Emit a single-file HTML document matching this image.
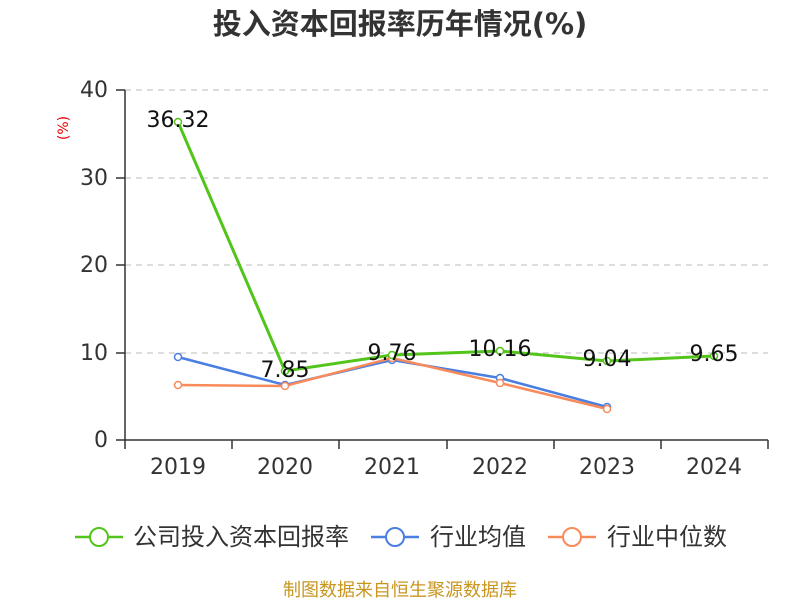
<!DOCTYPE html>
<html><head><meta charset="utf-8"><style>
body{margin:0;background:#fff;}
svg text{font-family:"DejaVu Sans","Noto Sans CJK SC",sans-serif;}
</style></head><body>
<svg width="800" height="600" xmlns="http://www.w3.org/2000/svg">
<rect width="800" height="600" fill="#fff"/>
<text x="400" y="34" text-anchor="middle" font-size="29" font-weight="bold" fill="#333">投入资本回报率历年情况(%)</text>
<text x="68" y="128" font-size="14" fill="#e00" transform="rotate(-90 68 128)" text-anchor="middle">(%)</text>
<g stroke="#bbb" stroke-dasharray="6,5" stroke-width="1">
<line x1="125" y1="90" x2="768" y2="90"/><line x1="125" y1="178" x2="768" y2="178"/>
<line x1="125" y1="265" x2="768" y2="265"/><line x1="125" y1="353" x2="768" y2="353"/>
</g>
<g stroke="#333" stroke-width="1.5">
<line x1="125" y1="440" x2="768" y2="440"/>
<line x1="125" y1="90" x2="125" y2="440"/>
<line x1="116" y1="90" x2="125" y2="90"/><line x1="116" y1="178" x2="125" y2="178"/>
<line x1="116" y1="265" x2="125" y2="265"/><line x1="116" y1="353" x2="125" y2="353"/>
<line x1="116" y1="440" x2="125" y2="440"/>
<line x1="125" y1="440" x2="125" y2="449"/><line x1="232" y1="440" x2="232" y2="449"/>
<line x1="339" y1="440" x2="339" y2="449"/><line x1="447" y1="440" x2="447" y2="449"/>
<line x1="554" y1="440" x2="554" y2="449"/><line x1="661" y1="440" x2="661" y2="449"/>
<line x1="768" y1="440" x2="768" y2="449"/>
</g>
<g font-size="22" fill="#333" text-anchor="end">
<text x="108" y="97">40</text><text x="108" y="185">30</text><text x="108" y="272">20</text>
<text x="108" y="360">10</text><text x="108" y="447">0</text>
</g>
<g font-size="22" fill="#333" text-anchor="middle">
<text x="178" y="474">2019</text><text x="285" y="474">2020</text><text x="392" y="474">2021</text>
<text x="500" y="474">2022</text><text x="607" y="474">2023</text><text x="714" y="474">2024</text>
</g>
<polyline fill="none" stroke="#4a7ee0" stroke-width="2.5" points="178,357 285,385 392,360 500,378 607,407"/>
<polyline fill="none" stroke="#f98a5a" stroke-width="2.5" points="178,385 285,386 392,358 500,383 607,409"/>
<polyline fill="none" stroke="#52c41a" stroke-width="3" points="178,122 285,371 392,355 500,351 607,361 714,356"/>
<g fill="#fff" stroke-width="1.5">
<g stroke="#4a7ee0"><circle cx="178" cy="357" r="3.5"/><circle cx="285" cy="385" r="3.5"/><circle cx="392" cy="360" r="3.5"/><circle cx="500" cy="378" r="3.5"/><circle cx="607" cy="407" r="3.5"/></g>
<g stroke="#f98a5a"><circle cx="178" cy="385" r="3.5"/><circle cx="285" cy="386" r="3.5"/><circle cx="392" cy="358" r="3.5"/><circle cx="500" cy="383" r="3.5"/><circle cx="607" cy="409" r="3.5"/></g>
<g stroke="#52c41a"><circle cx="178" cy="122" r="3.5"/><circle cx="285" cy="371" r="3.5"/><circle cx="392" cy="355" r="3.5"/><circle cx="500" cy="351" r="3.5"/><circle cx="607" cy="361" r="3.5"/><circle cx="714" cy="356" r="3.5"/></g>
</g>
<g font-size="22" fill="#111" text-anchor="middle">
<text x="178" y="127">36.32</text><text x="285" y="377">7.85</text><text x="392" y="360">9.76</text>
<text x="500" y="356">10.16</text><text x="607" y="366">9.04</text><text x="714" y="361">9.65</text>
</g>
<g font-size="24" fill="#333">
<line x1="75" y1="537" x2="123" y2="537" stroke="#52c41a" stroke-width="2.5"/><circle cx="99" cy="537" r="9" fill="#fff" stroke="#52c41a" stroke-width="2"/>
<text x="133" y="545">公司投入资本回报率</text>
<line x1="371" y1="537" x2="419" y2="537" stroke="#4a7ee0" stroke-width="2.5"/><circle cx="395" cy="537" r="9" fill="#fff" stroke="#4a7ee0" stroke-width="2"/>
<text x="430" y="545">行业均值</text>
<line x1="548" y1="537" x2="596" y2="537" stroke="#f98a5a" stroke-width="2.5"/><circle cx="572" cy="537" r="9" fill="#fff" stroke="#f98a5a" stroke-width="2"/>
<text x="607" y="545">行业中位数</text>
</g>
<text x="400" y="596" text-anchor="middle" font-size="18" fill="#c8961e">制图数据来自恒生聚源数据库</text>
</svg>
</body></html>
